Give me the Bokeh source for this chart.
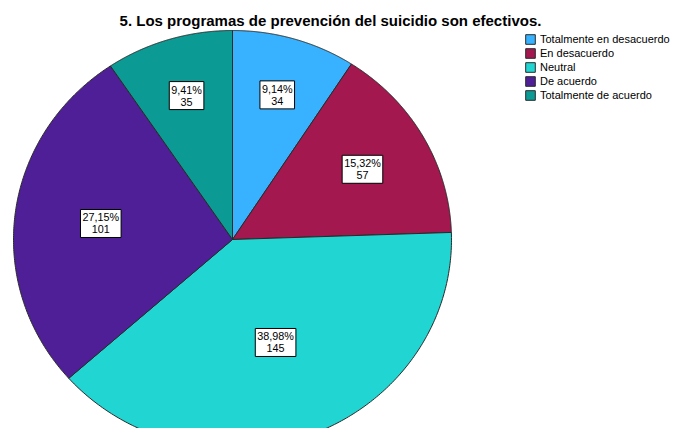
import numpy as np
from bokeh.plotting import figure
from bokeh.models import Range1d, Legend, LegendItem, Label, ColumnDataSource
from bokeh.core.properties import value
from bokeh.embed import file_html
from bokeh.resources import INLINE

title_text = "5. Los programas de prevención del suicidio son efectivos."
categories = ["Totalmente en desacuerdo", "En desacuerdo", "Neutral",
              "De acuerdo", "Totalmente de acuerdo"]
counts = [34, 57, 145, 101, 35]
colors = ["#38B2FF", "#A2184F", "#21D5D3", "#4F1F97", "#0C9A95"]

W, H = 675, 428
CX, CY = 232, 239      # pie centre in plot pixels (from top-left)
RX, RY = 219, 209      # pie radii in pixels

p = figure(width=W, height=H, output_backend="svg", toolbar_location=None,
           x_axis_location=None, y_axis_location=None, min_border=0,
           x_range=Range1d(-CX / RX, (W - CX) / RX),
           y_range=Range1d(-(H - CY) / RY, CY / RY))
p.grid.visible = False
p.outline_line_color = None
p.background_fill_color = "white"

total = sum(counts)
cum = np.cumsum([0] + counts) / total
items = []
lab_x, lab_y, lab_t = [], [], []
for i, (cat, c, col) in enumerate(zip(categories, counts, colors)):
    a0, a1 = 2 * np.pi * cum[i], 2 * np.pi * cum[i + 1]
    t = np.linspace(a0, a1, 200)
    xs = np.concatenate([[0.0], np.sin(t), [0.0]])
    ys = np.concatenate([[0.0], np.cos(t), [0.0]])
    r = p.patch(xs, ys, fill_color=col, line_color="#2a2a2a", line_width=1)
    items.append(LegendItem(label=cat, renderers=[r]))
    f = c / total
    mid = (a0 + a1) / 2
    rl = 0.78 - 0.64 * f
    lab_x.append(rl * np.sin(mid))
    lab_y.append(rl * np.cos(mid))
    lab_t.append(f"{f * 100:.2f}".replace(".", ",") + "%\n" + str(c))

src = ColumnDataSource(dict(x=lab_x, y=lab_y, t=lab_t))
p.text(x="x", y="y", text="t", source=src, text_align="center",
       text_baseline="middle", text_font=value("Liberation Sans"),
       text_font_size="10.8px", text_color="black", text_line_height=1.0,
       background_fill_color="white", border_line_color="black",
       border_line_width=1, padding=2)

legend = Legend(items=items, location=(524, H - 33 - 68), glyph_width=12, glyph_height=12,
                label_height=12, spacing=2, padding=0, margin=0, label_standoff=4,
                label_text_font="Liberation Sans", label_text_font_size="11px",
                label_text_color="black",
                border_line_color=None, background_fill_alpha=0)
p.add_layout(legend, "center")

p.add_layout(Label(x=330, y=H - 20, x_units="screen", y_units="screen",
                   text=title_text, text_align="center", text_baseline="middle",
                   text_font="Liberation Sans", text_font_size="15px",
                   text_font_style="bold", text_color="black"))

open("out.html", "w").write(file_html(p, INLINE))
